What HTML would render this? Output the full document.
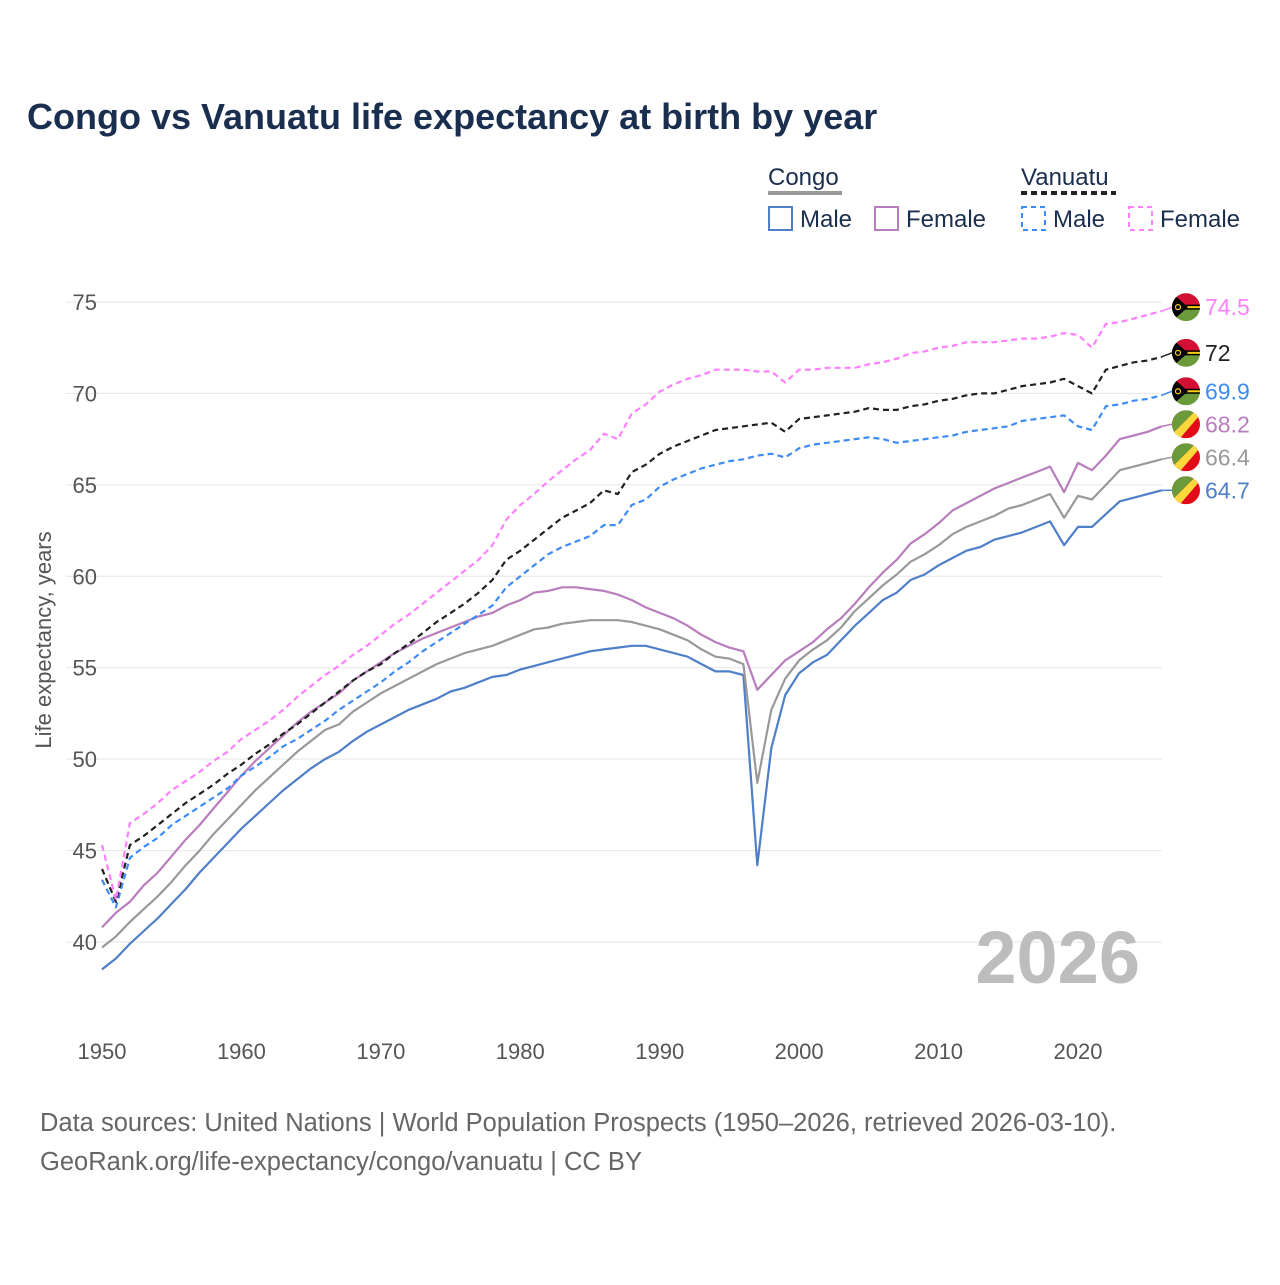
<!DOCTYPE html>
<html><head><meta charset="utf-8"><style>
html,body{margin:0;padding:0;background:#fff;}
svg text{font-family:"Liberation Sans",sans-serif;}
</style></head><body>
<svg id="chart" width="1280" height="1280" xmlns="http://www.w3.org/2000/svg">
<text x="27" y="129" font-size="36" font-weight="bold" fill="#1a2e4f">Congo vs Vanuatu life expectancy at birth by year</text>
<g font-size="24" fill="#1a2e4f">
<text x="768" y="185">Congo</text>
<line x1="768" y1="193" x2="842" y2="193" stroke="#999" stroke-width="4"/>
<text x="1021" y="185">Vanuatu</text>
<line x1="1021" y1="193" x2="1116" y2="193" stroke="#222" stroke-width="4" stroke-dasharray="6,4"/>
<g><rect x="769" y="207" width="23" height="23" fill="none" stroke="#4f7fc8" stroke-width="2"/><text x="800" y="227">Male</text></g>
<g><rect x="875" y="207" width="23" height="23" fill="none" stroke="#b87dbc" stroke-width="2"/><text x="906" y="227">Female</text></g>
<g><rect x="1022" y="207" width="23" height="23" fill="none" stroke="#3d8bf5" stroke-width="2" stroke-dasharray="5,4"/><text x="1053" y="227">Male</text></g>
<g><rect x="1129" y="207" width="23" height="23" fill="none" stroke="#ff80ff" stroke-width="2" stroke-dasharray="5,4"/><text x="1160" y="227">Female</text></g>
</g>
<text transform="translate(51,640) rotate(-90)" text-anchor="middle" font-size="22" fill="#555">Life expectancy, years</text>
<g id="grid"></g>
<g id="xticks"></g>
<text x="1140" y="983" text-anchor="end" font-size="74" font-weight="bold" fill="#bdbdbd">2026</text>
<g id="series"></g>
<g id="endlabels"></g>
<text x="40" y="1131" font-size="25.5" fill="#666">Data sources: United Nations | World Population Prospects (1950–2026, retrieved 2026-03-10).</text>
<text x="40" y="1170" font-size="25.5" fill="#666">GeoRank.org/life-expectancy/congo/vanuatu | CC BY</text>
</svg>
<script>
const startYear = 1950;
const yTicks = [40,45,50,55,60,65,70,75];
const xTicks = [1950,1960,1970,1980,1990,2000,2010,2020];
const congoMale = [38.5,39.1,39.9,40.6,41.3,42.1,42.9,43.8,44.6,45.4,
46.2,46.9,47.6,48.3,48.9,49.5,50.0,50.4,51.0,51.5,
51.9,52.3,52.7,53.0,53.3,53.7,53.9,54.2,54.5,54.6,
54.9,55.1,55.3,55.5,55.7,55.9,56.0,56.1,56.2,56.2,
56.0,55.8,55.6,55.2,54.8,54.8,54.6,44.2,50.6,53.5,
54.7,55.3,55.7,56.5,57.3,58.0,58.7,59.1,59.8,60.1,
60.6,61.0,61.4,61.6,62.0,62.2,62.4,62.7,63.0,61.7,
62.7,62.7,63.4,64.1,64.3,64.5,64.7];
const congoTotal = [39.7,40.3,41.1,41.8,42.5,43.3,44.2,45.0,45.9,46.7,
47.5,48.3,49.0,49.7,50.4,51.0,51.6,51.9,52.6,53.1,
53.6,54.0,54.4,54.8,55.2,55.5,55.8,56.0,56.2,56.5,
56.8,57.1,57.2,57.4,57.5,57.6,57.6,57.6,57.5,57.3,
57.1,56.8,56.5,56.0,55.6,55.5,55.2,48.7,52.7,54.4,
55.4,56.0,56.5,57.2,58.1,58.8,59.5,60.1,60.8,61.2,
61.7,62.3,62.7,63.0,63.3,63.7,63.9,64.2,64.5,63.2,
64.4,64.2,65.0,65.8,66.0,66.2,66.4];
const congoFemale = [40.8,41.6,42.2,43.1,43.8,44.7,45.6,46.4,47.3,48.2,
49.1,49.9,50.6,51.3,52.0,52.6,53.1,53.6,54.3,54.8,
55.3,55.8,56.2,56.6,56.9,57.2,57.5,57.8,58.0,58.4,
58.7,59.1,59.2,59.4,59.4,59.3,59.2,59.0,58.7,58.3,
58.0,57.7,57.3,56.8,56.4,56.1,55.9,53.8,54.6,55.4,
55.9,56.4,57.1,57.7,58.5,59.4,60.2,60.9,61.8,62.3,
62.9,63.6,64.0,64.4,64.8,65.1,65.4,65.7,66.0,64.6,
66.2,65.8,66.6,67.5,67.7,67.9,68.2];
const vanuatuFemale = [45.3,42.3,46.5,47.0,47.6,48.3,48.8,49.3,49.9,50.4,
51.1,51.6,52.1,52.7,53.4,54.0,54.6,55.1,55.7,56.2,
56.8,57.4,57.9,58.5,59.1,59.7,60.3,60.9,61.7,63.1,
63.9,64.5,65.2,65.8,66.4,66.9,67.8,67.5,68.9,69.4,
70.1,70.5,70.8,71.0,71.3,71.3,71.3,71.2,71.2,70.6,
71.3,71.3,71.4,71.4,71.4,71.6,71.7,71.9,72.2,72.3,
72.5,72.6,72.8,72.8,72.8,72.9,73.0,73.0,73.1,73.3,
73.2,72.5,73.8,73.9,74.1,74.3,74.5];
const vanuatuTotal = [44.0,42.2,45.3,45.8,46.4,47.0,47.6,48.1,48.6,49.2,
49.7,50.3,50.8,51.4,51.9,52.5,53.1,53.7,54.3,54.8,
55.2,55.8,56.3,56.9,57.5,58.0,58.5,59.1,59.8,60.9,
61.4,62.0,62.6,63.2,63.6,64.0,64.7,64.5,65.7,66.1,
66.7,67.1,67.4,67.7,68.0,68.1,68.2,68.3,68.4,67.9,
68.6,68.7,68.8,68.9,69.0,69.2,69.1,69.1,69.3,69.4,
69.6,69.7,69.9,70.0,70.0,70.2,70.4,70.5,70.6,70.8,
70.4,70.0,71.3,71.5,71.7,71.8,72.0];
const vanuatuMale = [43.4,41.9,44.6,45.2,45.7,46.4,46.9,47.4,47.9,48.4,
49.1,49.6,50.1,50.7,51.1,51.6,52.1,52.7,53.2,53.7,
54.2,54.8,55.3,55.9,56.4,56.9,57.4,57.9,58.4,59.4,
60.0,60.6,61.2,61.6,61.9,62.2,62.8,62.8,63.9,64.2,
64.9,65.3,65.6,65.9,66.1,66.3,66.4,66.6,66.7,66.5,
67.0,67.2,67.3,67.4,67.5,67.6,67.5,67.3,67.4,67.5,
67.6,67.7,67.9,68.0,68.1,68.2,68.5,68.6,68.7,68.8,
68.2,68.0,69.3,69.4,69.6,69.7,69.9];
const endLabels = ["74.5","72","69.9","68.2","66.4","64.7"];

const NS="http://www.w3.org/2000/svg";
function xs(yr){return 102+(yr-1950)*(976/70);}
function ys(v){return 942-(v-40)*(640/35);}
function mk(tag,attrs,parent){const e=document.createElementNS(NS,tag);for(const k in attrs)e.setAttribute(k,attrs[k]);parent.appendChild(e);return e;}
const grid=document.getElementById('grid');
yTicks.forEach(t=>{
  const l=mk('line',{x1:66,x2:1162,y1:ys(t),y2:ys(t),stroke:'#e6e6e6','stroke-width':1},grid);
  
  
  const tx=mk('text',{x:97,y:ys(t)+8,'text-anchor':'end','font-size':22,fill:'#555'},grid);
  tx.textContent=t;
  
  
});
const xt=document.getElementById('xticks');
xTicks.forEach(t=>{
  const tx=mk('text',{x:xs(t),y:1059,'text-anchor':'middle','font-size':22,fill:'#555'},xt);
  tx.textContent=t;
  
  
});
const series=[
 {d:congoMale,c:'#4f7fc8',dash:null,n:'congo-male-line',flag:'cg'},
 {d:congoTotal,c:'#999999',dash:null,n:'congo-total-line',flag:'cg'},
 {d:congoFemale,c:'#b87dbc',dash:null,n:'congo-female-line',flag:'cg'},
 {d:vanuatuMale,c:'#3d8bf5',dash:'6,4',n:'vanuatu-male-line',flag:'vu'},
 {d:vanuatuTotal,c:'#222222',dash:'6,4',n:'vanuatu-total-line',flag:'vu'},
 {d:vanuatuFemale,c:'#ff80ff',dash:'6,4',n:'vanuatu-female-line',flag:'vu'}
];
const sg=document.getElementById('series');
series.forEach(s=>{
  const pts=s.d.map((v,i)=>xs(startYear+i).toFixed(1)+','+ys(v).toFixed(1)).join(' ');
  const p=mk('polyline',{points:pts,fill:'none',stroke:s.c,'stroke-width':2.2,'stroke-linejoin':'round'},sg);
  if(s.dash)p.setAttribute('stroke-dasharray',s.dash);
  
  
});
const order=[5,4,3,2,1,0];
const eg=document.getElementById('endlabels');
let prevY=-1e9;
order.forEach((si,k)=>{
  const s=series[si];const last=s.d[s.d.length-1];
  let y=ys(last)-4;
  if(y<prevY+33)y=prevY+33;
  prevY=y;
  const cx=1186;
  const g=mk('g',{},eg);
  
  
  mk('line',{x1:xs(startYear+s.d.length-1),y1:ys(last),x2:cx-14,y2:y,stroke:s.c,'stroke-width':1.5},g);
  const id='clip'+si;
  const cp=mk('clipPath',{id:id},g);mk('circle',{cx:cx,cy:y,r:14},cp);
  const f=mk('g',{'clip-path':'url(#'+id+')'},g);
  if(s.flag==='vu'){
    mk('rect',{x:cx-14,y:y-14,width:28,height:14,fill:'#d21034'},f);
    mk('rect',{x:cx-14,y:y,width:28,height:14,fill:'#6a9a3a'},f);
    mk('rect',{x:cx-14,y:y-2.5,width:28,height:5,fill:'#000'},f);
    mk('rect',{x:cx-14,y:y-1,width:28,height:2,fill:'#fdce12'},f);
    mk('polygon',{points:(cx-14)+','+(y-14)+' '+(cx+2)+','+y+' '+(cx-14)+','+(y+14),fill:'#000'},f);
    mk('circle',{cx:cx-8,cy:y,r:2.5,fill:'none',stroke:'#fdce12','stroke-width':1.2},f);
  }else{
    mk('rect',{x:cx-14,y:y-14,width:28,height:28,fill:'#e30a17'},f);
    mk('polygon',{points:(cx-14)+','+(y-14)+' '+(cx+10)+','+(y-14)+' '+(cx-14)+','+(y+10),fill:'#6a9a3a'},f);
    mk('polygon',{points:(cx+10)+','+(y-14)+' '+(cx+18)+','+(y-14)+' '+(cx-6)+','+(y+14)+' '+(cx-14)+','+(y+14)+' '+(cx-14)+','+(y+10),fill:'#fbd83c'},f);
  }
  const t=mk('text',{x:1205,y:y+8,'font-size':23,fill:s.c},g);
  t.textContent=endLabels[k];
});
</script>
</body></html>
